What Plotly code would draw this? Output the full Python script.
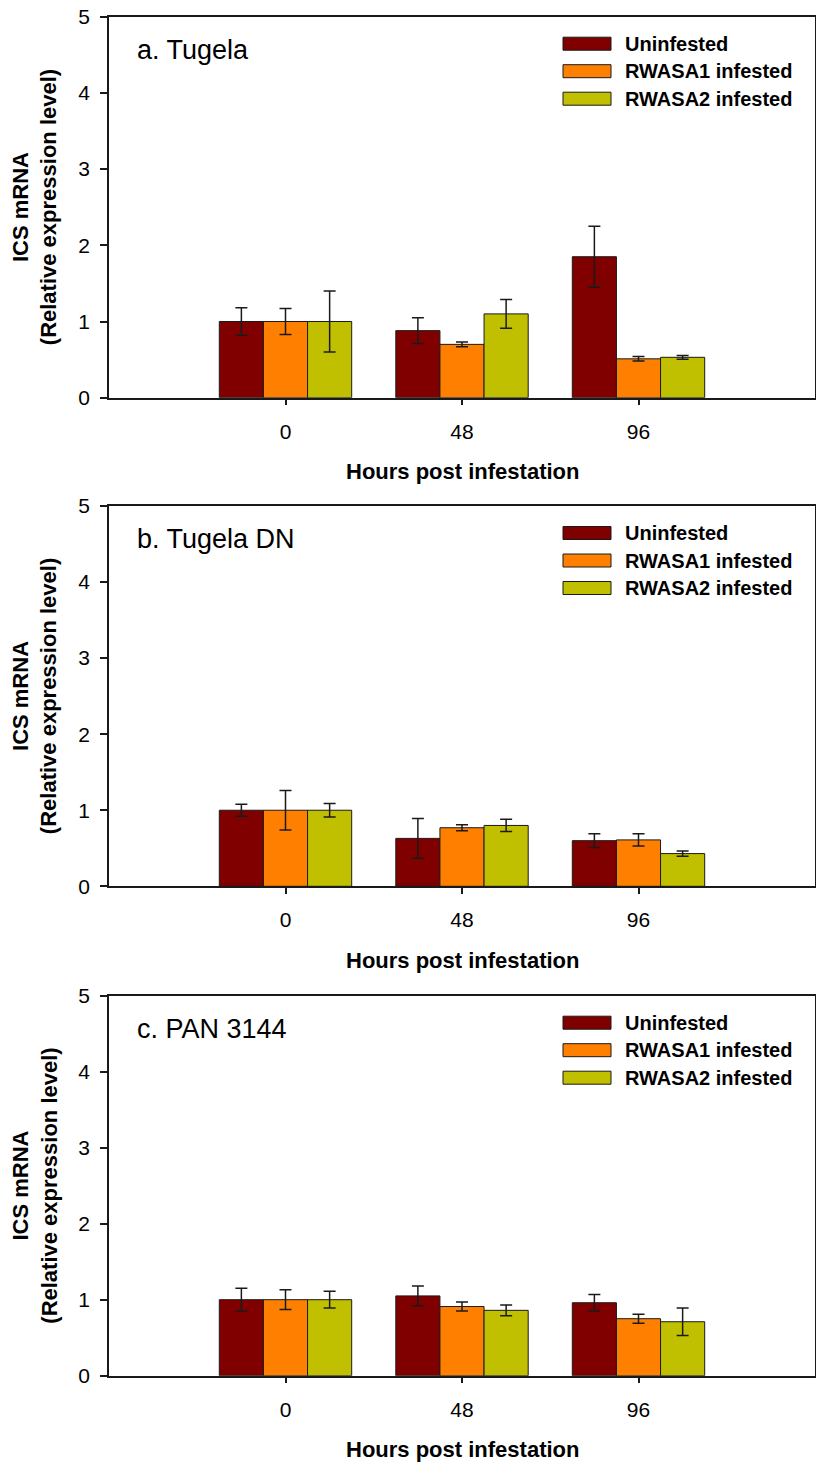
import plotly.graph_objects as go
from plotly.subplots import make_subplots

# Hours post infestation (categories) and treatment series
hours = ["0", "48", "96"]
series_names = ["Uninfested", "RWASA1 infested", "RWASA2 infested"]
series_colors = ["#800000", "#FF8000", "#C0C000"]
panel_titles = ["a. Tugela", "b. Tugela DN", "c. PAN 3144"]

# Relative ICS expression (mean) and error per panel, per series
tugela_uninfested = [1.00, 0.88, 1.85]
tugela_uninfested_err = [0.18, 0.17, 0.40]
tugela_rwasa1 = [1.00, 0.70, 0.51]
tugela_rwasa1_err = [0.17, 0.03, 0.03]
tugela_rwasa2 = [1.00, 1.10, 0.53]
tugela_rwasa2_err = [0.40, 0.19, 0.025]

tugela_dn_uninfested = [1.00, 0.63, 0.60]
tugela_dn_uninfested_err = [0.08, 0.26, 0.09]
tugela_dn_rwasa1 = [1.00, 0.77, 0.61]
tugela_dn_rwasa1_err = [0.26, 0.04, 0.08]
tugela_dn_rwasa2 = [1.00, 0.80, 0.43]
tugela_dn_rwasa2_err = [0.09, 0.08, 0.035]

pan3144_uninfested = [1.00, 1.05, 0.96]
pan3144_uninfested_err = [0.15, 0.13, 0.11]
pan3144_rwasa1 = [1.00, 0.91, 0.75]
pan3144_rwasa1_err = [0.13, 0.06, 0.06]
pan3144_rwasa2 = [1.00, 0.86, 0.71]
pan3144_rwasa2_err = [0.11, 0.07, 0.18]

y_ticks = [0, 1, 2, 3, 4, 5]

panels = [
    [(tugela_uninfested, tugela_uninfested_err),
     (tugela_rwasa1, tugela_rwasa1_err),
     (tugela_rwasa2, tugela_rwasa2_err)],
    [(tugela_dn_uninfested, tugela_dn_uninfested_err),
     (tugela_dn_rwasa1, tugela_dn_rwasa1_err),
     (tugela_dn_rwasa2, tugela_dn_rwasa2_err)],
    [(pan3144_uninfested, pan3144_uninfested_err),
     (pan3144_rwasa1, pan3144_rwasa1_err),
     (pan3144_rwasa2, pan3144_rwasa2_err)],
]

W, H = 816, 1465
FONT = "Arial, Liberation Sans, Helvetica, sans-serif"
INK = "#1a1a1a"

# plot area in pixels: left, right, (top, bottom) per panel
left_px, right_px = 109, 815
rows_px = [(16.7, 397.7), (506.0, 886.3), (995.7, 1375.7)]

fig = make_subplots(rows=3, cols=1)

for r, panel in enumerate(panels, start=1):
    for (vals, errs), name, color in zip(panel, series_names, series_colors):
        fig.add_trace(
            go.Bar(
                x=hours, y=vals, name=name, showlegend=False,
                marker=dict(color=color, line=dict(color=INK, width=1)),
                error_y=dict(type="data", array=errs, visible=True,
                             color=INK, thickness=1.5, width=6),
            ),
            row=r, col=1,
        )

fig.update_layout(
    width=W, height=H,
    margin=dict(l=0, r=0, t=0, b=0, autoexpand=False),
    paper_bgcolor="white", plot_bgcolor="white",
    barmode="group", bargap=0.25, bargroupgap=0,
    font=dict(family=FONT, color="black"),
    showlegend=False,
)

annotations = []
shapes = []
for i, (top, bot) in enumerate(rows_px):
    n = "" if i == 0 else str(i + 1)
    xa = dict(
        domain=[left_px / W, right_px / W],
        type="category", range=[-1, 3],
        tickvals=hours, ticktext=hours,
        ticks="outside", ticklen=6, tickwidth=1.5, tickcolor=INK,
        showline=True, linecolor=INK, linewidth=1.5, mirror=True,
        showgrid=False, zeroline=False, automargin=False,
        tickfont=dict(size=21, family=FONT, color="black"),
        ticklabelstandoff=8,
    )
    ya = dict(
        domain=[1 - bot / H, 1 - top / H],
        range=[0, 5], tickvals=y_ticks,
        ticks="outside", ticklen=7, tickwidth=1.5, tickcolor=INK,
        showline=True, linecolor=INK, linewidth=1.5, mirror=True,
        showgrid=False, zeroline=False, automargin=False,
        tickfont=dict(size=21, family=FONT, color="black"),
        ticklabelstandoff=6,
    )
    fig.layout["xaxis" + n].update(xa)
    fig.layout["yaxis" + n].update(ya)

    xd, yd = "x" + n + " domain", "y" + n + " domain"

    # panel label
    annotations.append(dict(
        text=panel_titles[i], xref=xd, yref=yd, x=0, y=1,
        xshift=26, yshift=-33, xanchor="left", yanchor="middle",
        showarrow=False, font=dict(size=27, family=FONT, color="black"),
    ))

    # x axis title
    annotations.append(dict(
        text="<b>Hours post infestation</b>", xref=xd, yref=yd, x=0.5, y=0,
        yshift=-74, xanchor="center", yanchor="middle",
        showarrow=False, font=dict(size=22, family=FONT, color="black"),
    ))

    # y axis title (two lines, rotated)
    annotations.append(dict(
        text="<b>ICS mRNA<br>(Relative expression level)</b>",
        xref="paper", yref=yd, x=35 / W, y=0.5,
        xanchor="center", yanchor="middle", textangle=-90,
        showarrow=False, font=dict(size=22, family=FONT, color="black"),
    ))

    # legend: wide swatches with bold labels
    for k, (name, color) in enumerate(zip(series_names, series_colors)):
        dy = 27 + 27.5 * k
        shapes.append(dict(
            type="rect", xref=xd, yref=yd,
            xsizemode="pixel", ysizemode="pixel",
            xanchor=0, yanchor=1,
            x0=454, x1=502, y0=-dy - 6.5, y1=-dy + 6.5,
            fillcolor=color, line=dict(color=INK, width=1),
        ))
        annotations.append(dict(
            text="<b>" + name + "</b>", xref=xd, yref=yd, x=0, y=1,
            xshift=514, yshift=-dy, xanchor="left", yanchor="middle",
            showarrow=False, font=dict(size=20, family=FONT, color="black"),
        ))

fig.update_layout(annotations=annotations, shapes=shapes)

fig.write_html("out.html")
